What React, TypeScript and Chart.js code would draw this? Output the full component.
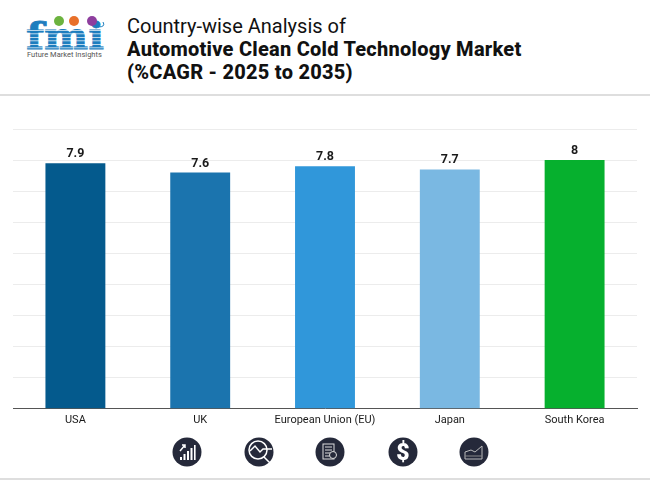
import React, { useEffect, useRef } from "react";
import { Chart, registerables } from "chart.js";

Chart.register(...registerables);

const categories = ["USA", "UK", "European Union (EU)", "Japan", "South Korea"];
const cagrValues = [7.9, 7.6, 7.8, 7.7, 8];
const barColors = ["#045A8D", "#1B74AE", "#3097DA", "#7AB8E2", "#06B02E"];
const titleLines = ["Country-wise Analysis of", "Automotive Clean Cold Technology Market", "(%CAGR - 2025 to 2035)"];

const valueLabels = {
  id: "valueLabels",
  afterDatasetsDraw(chart: any) {
    const { ctx } = chart;
    const meta = chart.getDatasetMeta(0);
    ctx.save();
    ctx.font = "700 12.5px Roboto";
    ctx.fillStyle = "#1a1a1a";
    ctx.textAlign = "center";
    ctx.textBaseline = "alphabetic";
    meta.data.forEach((bar: any, i: number) => {
      ctx.fillText(String(cagrValues[i]), bar.x, bar.y - 6);
    });
    ctx.restore();
  },
};

function Icon({ x, children }: { x: number; children: React.ReactNode }) {
  return (
    <g transform={`translate(${x} 452)`}>
      <circle r="14.5" fill="#25293A" />
      {children}
    </g>
  );
}

function Logo() {
  const stripes = [17, 20.5, 24, 27.5, 31, 34.5];
  return (
    <svg width="110" height="70" style={{ position: "absolute", left: 20, top: 10 }} viewBox="0 0 110 70">
      <text x="6" y="39" fontFamily="'DejaVu Serif', serif" fontWeight="700" fontSize="37" fill="#1D7DBE" stroke="#1D7DBE" strokeWidth="0.8" textLength="78" lengthAdjust="spacingAndGlyphs">fmi</text>
      {stripes.map((y) => (
        <rect key={y} x="5" y={y + 3} width="82" height="0.7" fill="#fff" />
      ))}
      <circle cx="39" cy="11" r="5" fill="#6CB33F" />
      <circle cx="54" cy="11" r="5" fill="#E8702A" />
      <circle cx="72" cy="11" r="5" fill="#8E3E9E" />
      <path d="M78 17 Q86 17 83 12" stroke="#1D7DBE" strokeWidth="1" fill="none" />
      <text x="7" y="47" fontFamily="Roboto" fontSize="7.5" fill="#555">Future Market Insights</text>
    </svg>
  );
}

export default function App() {
  const ref = useRef<HTMLCanvasElement>(null);

  useEffect(() => {
    const chart = new Chart(ref.current!, {
      type: "bar",
      data: {
        labels: categories,
        datasets: [
          {
            data: cagrValues,
            backgroundColor: barColors,
            barPercentage: 0.48,
            categoryPercentage: 1,
          },
        ],
      },
      options: {
        animation: false,
        responsive: false,
        devicePixelRatio: 1,
        layout: { padding: { left: 13, right: 13, top: 129, bottom: 48 } },
        plugins: { legend: { display: false }, tooltip: { enabled: false } },
        scales: {
          x: {
            grid: { display: false, drawTicks: false },
            border: { color: "#555", width: 1 },
            ticks: { color: "#1a1a1a", font: { family: "Roboto", size: 11 }, padding: 5, maxRotation: 0 },
          },
          y: {
            display: true,
            min: 0,
            max: 9,
            afterFit(axis: any) { axis.width = 0; },
            grid: { color: "#ECECEC", drawTicks: false },
            border: { display: false },
            ticks: { display: false, stepSize: 1 },
          },
        },
      },
      plugins: [valueLabels],
    });
    return () => chart.destroy();
  }, []);

  return (
    <div style={{ position: "fixed", left: 0, top: 0, width: 650, height: 480, background: "#fff", overflow: "hidden", fontFamily: "Roboto" }}>
      <Logo />
      <div style={{ position: "absolute", left: 127, top: 15, fontSize: 20, lineHeight: "23px", color: "#111", whiteSpace: "nowrap" }}>
        <div style={{ fontWeight: 400 }}>{titleLines[0]}</div>
        <div style={{ fontWeight: 800, letterSpacing: "0.25px" }}>{titleLines[1]}</div>
        <div style={{ fontWeight: 800, letterSpacing: "0.25px" }}>{titleLines[2]}</div>
      </div>
      <div style={{ position: "absolute", left: 0, top: 94, width: 650, height: 2, background: "#DEDEDE" }} />
      <canvas ref={ref} width={650} height={480} style={{ position: "absolute", left: 0, top: 0 }} />
      <svg width="650" height="480" style={{ position: "absolute", left: 0, top: 0, pointerEvents: "none" }}>
        <Icon x={187}>
          <g fill="#fff">
            <rect x="-7" y="5" width="2" height="3" /><rect x="-3.5" y="2" width="2" height="6" /><rect x="0" y="-1" width="2" height="9" /><rect x="3.5" y="-4" width="2" height="12" /><rect x="7" y="-7" width="1.6" height="15" />
          </g>
          <path d="M-7 -1 L-2 -7 M-5 -7 H-2 V-4" stroke="#fff" strokeWidth="1.5" fill="none" />
        </Icon>
        <Icon x={259}>
          <circle cx="-1" cy="-2" r="9" fill="none" stroke="#fff" strokeWidth="1.5" />
          <path d="M-9 -1 L-4 -6 L1 0 L4 -3 H13 M5 5 L11 11" stroke="#fff" strokeWidth="1.5" fill="none" />
        </Icon>
        <Icon x={330}>
          <rect x="-7" y="-8" width="11" height="15" fill="none" stroke="#ddd" strokeWidth="1" />
          <path d="M-5 -5 H2 M-5 -2 H2 M-5 1 H0 M-5 4 H0" stroke="#ddd" strokeWidth="1" />
          <circle cx="3" cy="3" r="3.5" fill="#25293A" stroke="#ddd" strokeWidth="1" />
        </Icon>
        <Icon x={403}>
          <text x="0" y="8" textAnchor="middle" fontFamily="Roboto" fontWeight="900" fontSize="23" fill="#fff">$</text>
        </Icon>
        <Icon x={474}>
          <path d="M-9 7 V0 L-3 -2 L1 0 L8 -6 V7 Z" fill="none" stroke="#bbb" strokeWidth="1" />
          <path d="M-9 4 H8" stroke="#888" strokeWidth="1" />
        </Icon>
      </svg>
      <div style={{ position: "absolute", left: 0, top: 478, width: 650, height: 2, background: "#DEDEDE" }} />
    </div>
  );
}
